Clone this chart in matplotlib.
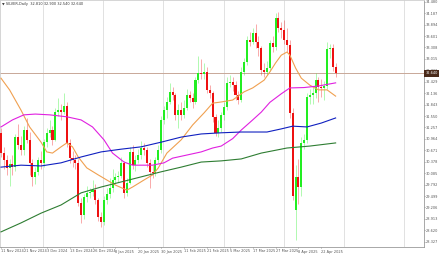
import matplotlib
matplotlib.use("Agg")
import matplotlib.pyplot as plt
import numpy as np

# SILVER daily candles, 11 Nov 2024 onwards
closes = [30.60, 30.42, 30.22, 30.32, 30.24, 31.01, 30.81, 30.68, 31.19, 30.94,
          30.35, 29.99, 30.12, 30.42, 30.35, 30.88, 31.12, 31.19, 30.94, 31.65,
          31.70, 31.65, 31.81, 30.86, 30.47, 30.42, 30.35, 29.32, 29.01, 29.47,
          29.58, 29.60, 29.65, 29.40, 28.96, 28.83, 29.40, 29.55, 29.70, 29.91,
          29.99, 30.01, 30.35, 29.58, 29.83, 30.63, 30.29, 30.42, 30.55, 30.73,
          30.68, 30.35, 30.12, 30.09, 30.42, 30.68, 31.45, 31.70, 31.91, 32.17,
          32.09, 31.58, 31.70, 31.58, 31.76, 32.09, 32.01, 31.91, 32.47, 32.65,
          32.63, 32.68, 32.22, 32.14, 31.53, 31.12, 31.24, 31.58, 31.78, 32.40,
          32.42, 32.35, 32.09, 31.96, 32.68, 32.93, 33.50, 33.45, 33.68, 33.45,
          33.29, 32.73, 32.68, 32.78, 33.42, 33.32, 34.06, 33.81, 33.76, 33.50,
          33.37, 31.63, 29.50, 29.99, 29.73, 30.86, 30.94, 32.04, 32.09, 32.14,
          32.47, 32.29, 32.27, 32.32, 33.27, 33.29, 32.81, 32.64]
highs = [31.25, 30.75, 30.55, 30.45, 30.55, 31.10, 31.35, 31.05, 31.30, 31.50,
         31.15, 30.45, 30.25, 30.50, 30.65, 30.95, 31.25, 31.45, 31.30, 31.75,
         32.00, 31.85, 32.15, 31.90, 30.95, 30.65, 30.55, 30.45, 29.45, 29.55,
         29.75, 29.70, 29.90, 29.80, 29.45, 29.10, 29.50, 29.70, 29.95, 30.20,
         30.10, 30.15, 30.50, 30.40, 29.95, 30.75, 30.80, 30.55, 30.70, 30.90,
         30.85, 30.75, 30.45, 30.30, 30.50, 30.80, 31.55, 31.80, 32.05, 32.40,
         32.30, 32.15, 31.85, 31.90, 31.95, 32.25, 32.20, 32.15, 32.55, 33.10,
         33.00, 32.90, 32.80, 32.35, 32.20, 31.60, 31.45, 31.65, 31.90, 32.55,
         32.60, 32.55, 32.45, 32.20, 32.80, 33.05, 33.60, 33.70, 33.80, 33.90,
         33.60, 33.35, 32.90, 32.95, 33.50, 33.60, 34.20, 34.22, 33.95, 34.00,
         33.80, 33.50, 31.75, 30.30, 30.45, 31.00, 31.10, 32.15, 32.25, 32.30,
         32.65, 32.55, 32.50, 32.45, 33.45, 33.40, 33.40, 32.90]
lows = [30.50, 30.20, 30.05, 29.75, 30.05, 30.15, 30.70, 30.55, 30.55, 30.85,
        30.05, 29.75, 29.80, 30.05, 30.20, 30.25, 30.75, 31.00, 30.80, 30.90,
        31.55, 31.45, 31.60, 30.75, 30.35, 30.25, 30.20, 29.25, 28.80, 28.90,
        29.35, 29.45, 29.50, 29.30, 28.85, 28.70, 28.75, 29.30, 29.45, 29.60,
        29.80, 29.85, 29.95, 29.45, 29.50, 29.80, 30.20, 30.15, 30.35, 30.45,
        30.55, 30.25, 29.70, 29.95, 30.00, 30.35, 30.60, 31.35, 31.50, 31.85,
        31.95, 31.45, 31.25, 31.45, 31.50, 31.70, 31.90, 31.75, 31.85, 32.40,
        32.50, 32.50, 32.15, 32.00, 31.40, 31.05, 31.00, 31.15, 31.45, 31.70,
        32.30, 32.20, 31.95, 31.85, 31.90, 32.60, 32.85, 33.35, 33.40, 33.30,
        33.10, 32.60, 32.55, 32.60, 32.70, 33.20, 33.25, 33.70, 33.55, 33.40,
        33.20, 31.50, 29.40, 28.37, 29.30, 29.50, 30.70, 30.85, 31.85, 31.85,
        32.00, 31.90, 32.05, 31.95, 32.25, 33.05, 32.70, 32.54]
first_open = 31.12
gap_opens = {103: 29.14}

date_labels = ["11 Nov 2024", "21 Nov 2024", "3 Dec 2024", "13 Dec 2024", "26 Dec 2024",
               "8 Jan 2025", "20 Jan 2025", "30 Jan 2025", "11 Feb 2025", "21 Feb 2025",
               "5 Mar 2025", "17 Mar 2025", "27 Mar 2025", "8 Apr 2025", "22 Apr 2025"]

# moving averages read at sample bars
ma_fast_x = [0, 3, 7, 10, 14, 16, 18, 21, 23, 25, 27, 30, 34, 37, 40, 44, 46, 50, 53, 55,
             58, 63, 67, 71, 74, 77, 81, 85, 88, 92, 94, 96, 98, 100, 101, 103, 105, 108,
             111, 114, 117]
ma_fast = [32.52, 32.22, 31.70, 31.27, 30.88, 30.63, 30.60, 30.76, 30.86, 30.76, 30.50,
           30.22, 30.04, 29.91, 29.78, 29.65, 29.73, 29.91, 30.04, 30.22, 30.60, 30.94,
           31.32, 31.63, 31.88, 31.91, 31.96, 32.17, 32.27, 32.47, 32.68, 32.91, 33.11,
           33.19, 33.11, 32.78, 32.52, 32.34, 32.22, 32.22, 32.06]
ma_mid_x = [0, 4, 8, 12, 17, 23, 28, 32, 36, 39, 43, 46, 50, 53, 57, 60, 65, 70, 74, 77,
            81, 84, 88, 91, 94, 98, 101, 106, 111, 117]
ma_mid = [31.27, 31.45, 31.58, 31.60, 31.58, 31.53, 31.45, 31.27, 30.94, 30.60, 30.37,
          30.29, 30.29, 30.29, 30.35, 30.47, 30.55, 30.63, 30.73, 30.78, 30.97, 31.19,
          31.45, 31.65, 31.90, 32.12, 32.27, 32.28, 32.32, 32.40]
ma_slow_x = [0, 7, 14, 21, 28, 35, 42, 49, 56, 63, 70, 77, 84, 93, 98, 102, 107, 112, 117]
ma_slow = [30.24, 30.29, 30.27, 30.35, 30.50, 30.63, 30.70, 30.76, 30.88, 31.01, 31.09,
           31.12, 31.14, 31.14, 31.22, 31.29, 31.27, 31.37, 31.50]
ma_long_x = [0, 7, 14, 21, 28, 35, 42, 49, 56, 63, 70, 77, 84, 91, 100, 108, 117]
ma_long = [28.58, 28.81, 29.06, 29.27, 29.58, 29.73, 29.86, 29.99, 30.12, 30.24, 30.37,
           30.40, 30.45, 30.60, 30.73, 30.78, 30.86]

price_ticks = [34.480, 34.187, 33.894, 33.601, 33.308, 33.015, 32.722, 32.429, 32.136,
               31.843, 31.550, 31.257, 30.964, 30.671, 30.378, 30.085, 29.792, 29.499,
               29.206, 28.913, 28.620, 28.327]

n = len(closes)
opens = [first_open] + closes[:-1]
for k, v in gap_opens.items():
    opens[k] = v
opens = np.array(opens)
closes = np.array(closes)
x = np.arange(n)

fig = plt.figure(figsize=(4.40, 2.54), dpi=100)
ax = fig.add_axes([0.0, 7 / 254, 424 / 440, 247 / 254])

# vertical grid
for gx in [14.7, 35.7, 56.6, 78.0, 99.0, 120.0, 141.0]:
    ax.axvline(gx, color="#dcdcdc", lw=0.6, zorder=0)

up = closes >= opens
cols = np.where(up, "#22ee22", "#ee1111")
ax.vlines(x, lows, highs, colors=cols, lw=0.45, alpha=0.55, zorder=2)
body_lo = np.minimum(opens, closes)
body_h = np.maximum(np.abs(closes - opens), 0.02)
ax.bar(x, body_h, bottom=body_lo, width=0.72, color=cols, lw=0, zorder=3)

ax.plot(ma_fast_x, ma_fast, color="#f0a050", lw=0.8, zorder=4)
ax.plot(ma_mid_x, ma_mid, color="#e020e0", lw=0.8, zorder=4)
ax.plot(ma_slow_x, ma_slow, color="#1020c0", lw=0.8, zorder=4)
ax.plot(ma_long_x, ma_long, color="#2e7d32", lw=0.8, zorder=4)

# bid line
last = closes[-1]
ax.axhline(last, color="#c8a898", lw=0.7, zorder=1)

ymax = 34.524
ymin = ymax - 247 * 0.025634
ax.set_ylim(ymin, ymax)
ax.set_xlim(-0.35, 147.9)

ax.yaxis.tick_right()
ax.set_yticks(price_ticks)
ax.set_yticklabels([f"{t:.3f}" for t in price_ticks])
ax.tick_params(axis="y", length=1.0, width=0.4, pad=0.5, labelsize=2.5,
               colors="#555555")
ax.set_xticks(np.arange(0, 8 * len(date_labels), 8))
ax.set_xticklabels(date_labels, ha="left")
ax.tick_params(axis="x", length=1.0, width=0.4, pad=0.8, labelsize=2.5,
               colors="#555555")

for s in ["top", "left"]:
    ax.spines[s].set_color("#cfcfcf")
    ax.spines[s].set_linewidth(0.6)
for s in ["right", "bottom"]:
    ax.spines[s].set_color("#9a9a9a")
    ax.spines[s].set_linewidth(0.6)

# price label on the scale
ax.annotate(f"{last:.3f}", xy=(1.0, last), xycoords=("axes fraction", "data"),
            xytext=(1.0, 0), textcoords="offset points", ha="left", va="center",
            fontsize=2.5, color="white", zorder=10, annotation_clip=False,
            bbox=dict(boxstyle="square,pad=0.3", fc="#4a2a1a", ec="none"))

fig.text(2 / 440, 1 - 4 / 254, "\u25bc SILVER,Daily  32.810 32.900 32.540 32.640",
         fontsize=2.5, color="#333333", ha="left", va="center")

fig.savefig("out.png", dpi=100)
